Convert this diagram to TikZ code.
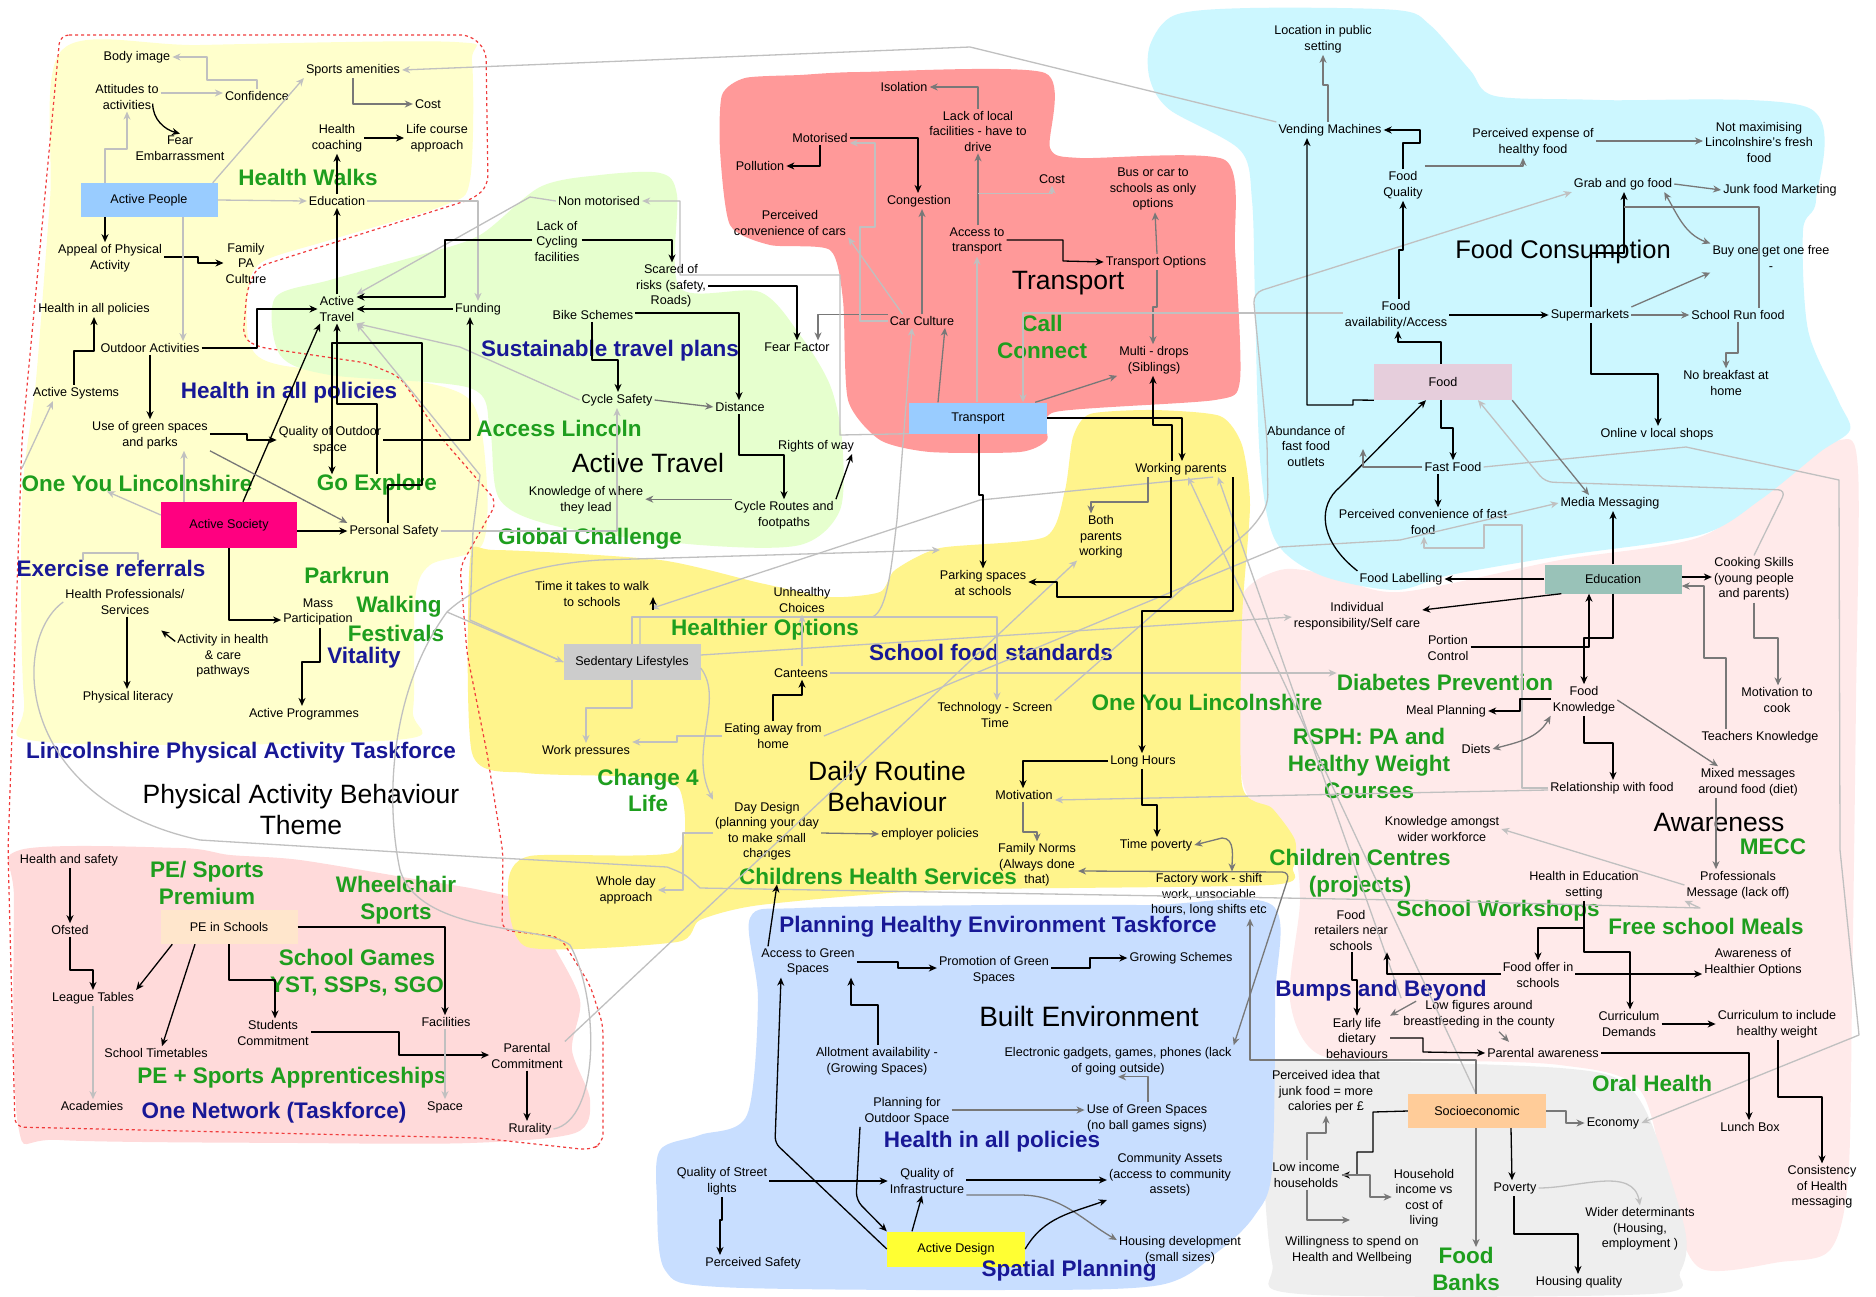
\documentclass[tikz,border=0pt]{standalone}
\usepackage{fontspec}
\setmainfont{Liberation Sans}
\usetikzlibrary{arrows.meta}
\definecolor{LGreen}{RGB}{30,158,30}
\definecolor{LBlue}{RGB}{24,24,150}
\definecolor{LGray}{RGB}{192,192,192}
\definecolor{MGray}{RGB}{120,120,120}
\definecolor{bgLY}{RGB}{255,255,204}
\definecolor{bgGr}{RGB}{230,255,206}
\definecolor{bgRed}{RGB}{255,153,153}
\definecolor{bgCy}{RGB}{204,247,255}
\definecolor{bgPk}{RGB}{255,234,234}
\definecolor{bgSal}{RGB}{255,218,218}
\definecolor{bgYe}{RGB}{255,244,140}
\definecolor{bgBl}{RGB}{200,222,255}
\definecolor{bgGy}{RGB}{238,238,238}
\definecolor{fBlue}{RGB}{153,204,255}
\definecolor{fMag}{RGB}{255,0,128}
\definecolor{fPeach}{RGB}{255,230,204}
\definecolor{fFood}{RGB}{230,206,220}
\definecolor{fTeal}{RGB}{153,194,184}
\definecolor{fOrange}{RGB}{255,204,153}
\definecolor{fSed}{RGB}{204,204,204}
\definecolor{fYel}{RGB}{255,255,51}
\definecolor{dashRed}{RGB}{240,60,60}
\tikzset{
  t/.style={font=\fontsize{12.6}{15.5}\selectfont, align=center, inner sep=2pt},
  g/.style={font=\fontsize{22.5}{27}\selectfont\bfseries, text=LGreen, align=center, inner sep=0pt},
  bl/.style={font=\fontsize{22.5}{27}\selectfont\bfseries, text=LBlue, align=center, inner sep=0pt},
  ttl/.style={font=\fontsize{26.5}{31}\selectfont, align=center, inner sep=0pt},
  bx/.style={t, minimum width=137pt, minimum height=34pt, inner sep=0pt},
  tip/.style={-{Stealth[length=8pt,width=7pt,inset=2.5pt]}},
  dtip/.style={{Stealth[length=8pt,width=7pt,inset=2.5pt]}-{Stealth[length=8pt,width=7pt,inset=2.5pt]}},
  blk/.style={draw=black, line width=1.3pt, tip},
  gry/.style={draw=MGray, line width=1.3pt, tip},
  lgr/.style={draw=LGray, line width=1.3pt, tip},
}
\begin{document}
\begin{tikzpicture}[x=1pt,y=-1pt,line join=round]
\useasboundingbox (0,0) rectangle (1876,1296);
\fill[white] (0,0) rectangle (1876,1296);

% ---------------- backgrounds ----------------
\fill[bgLY] plot[smooth cycle,tension=0.5] coordinates {(62,50) (200,45) (455,42) (472,62) (470,180) (445,205) (330,240) (262,262) (248,292) (250,345) (280,365) (400,378) (470,400) (486,470) (482,545) (430,565) (415,600) (413,710) (395,740) (45,742) (24,700) (22,500) (36,380) (50,200)};
\fill[bgGr] plot[smooth cycle,tension=0.5] coordinates {(275,298) (330,280) (420,255) (480,235) (540,187) (600,175) (660,173) (677,195) (680,288) (760,292) (800,335) (830,385) (842,440) (840,510) (800,545) (700,545) (560,527) (500,500) (490,430) (470,388) (330,375) (280,355)};
\fill[bgRed] plot[smooth cycle,tension=0.4] coordinates {(722,95) (745,78) (800,75) (860,72) (1045,73) (1050,148) (1080,158) (1225,160) (1235,250) (1240,380) (1215,400) (1055,412) (1047,440) (1020,452) (930,452) (880,440) (848,400) (843,300) (830,250) (770,245) (730,225) (720,150)};
\fill[bgPk] plot[smooth cycle,tension=0.5] coordinates {(1240,600) (1280,570) (1330,575) (1400,592) (1560,560) (1700,537) (1780,480) (1840,440) (1858,470) (1856,700) (1852,1000) (1848,1180) (1830,1250) (1780,1262) (1700,1268) (1670,1200) (1640,1090) (1560,1065) (1420,1060) (1320,1055) (1290,1000) (1300,900) (1290,840) (1245,790) (1238,700)};
\fill[bgCy] plot[smooth cycle,tension=0.5] coordinates {(1150,45) (1175,15) (1250,8) (1396,10) (1430,25) (1470,70) (1495,96) (1600,100) (1809,108) (1816,200) (1803,230) (1808,330) (1838,400) (1850,430) (1820,452) (1760,500) (1700,535) (1560,556) (1450,575) (1395,590) (1320,575) (1275,540) (1260,460) (1255,300) (1252,200) (1240,150) (1170,110) (1150,80)};
\fill[bgGy] plot[smooth cycle,tension=0.5] coordinates {(1262,1062) (1400,1062) (1560,1068) (1620,1080) (1650,1120) (1685,1230) (1680,1272) (1650,1294) (1300,1294) (1272,1262) (1262,1150) (1255,1090)};
\fill[bgSal] plot[smooth cycle,tension=0.5] coordinates {(20,850) (180,848) (230,855) (300,860) (420,880) (480,890) (530,905) (553,945) (580,1000) (572,1050) (590,1100) (575,1133) (470,1143) (300,1143) (60,1140) (18,1125) (14,900)};
\fill[bgYe] plot[smooth cycle,tension=0.4] coordinates {(470,560) (495,550) (660,560) (760,583) (830,597) (880,592) (895,570) (940,548) (1045,537) (1065,490) (1073,437) (1090,414) (1153,410) (1220,416) (1242,445) (1250,505) (1242,620) (1242,785) (1272,808) (1295,840) (1293,868) (1270,885) (940,890) (760,905) (700,920) (677,942) (527,947) (508,885) (530,856) (675,852) (680,790) (640,777) (527,773) (472,753)};
\fill[bgBl] plot[smooth cycle,tension=0.5] coordinates {(750,918) (800,908) (1000,905) (1150,905) (1272,905) (1275,1000) (1272,1170) (1255,1215) (1220,1250) (1160,1285) (1000,1290) (720,1287) (665,1270) (657,1200) (660,1150) (700,1135) (747,1115) (758,1000)};

% red dashed boundary
\draw[dashRed, line width=1.2pt, dash pattern=on 3pt off 3pt, rounded corners=9pt]
 (60,35) -- (470,35) -- (486,50) -- (488,185) -- (475,198) -- (257,267) -- (247,290) -- (243,338) -- (258,347) -- (367,363) -- (400,377) -- (443,440) -- (497,502) -- (460,567) -- (467,653) -- (487,753) -- (503,853) -- (502,930) -- (560,937) -- (590,985) -- (603,1025) -- (603,1143) -- (590,1150) -- (480,1138) -- (15,1127) -- (8,850) -- (22,440) -- cycle;

% ---------------- nodes: physical activity ----------------
\node[t] (n_bodyimg) at (137,57) {Body image};
\node[t] (n_attit) at (127,97) {Attitudes to\\activities};
\node[t] (n_conf) at (257,96) {Confidence};
\node[t] (n_sportam) at (353,70) {Sports amenities};
\node[t] (n_cost1) at (428,104) {Cost};
\node[t] (n_fear) at (180,148) {Fear\\Embarrassment};
\node[t] (n_hcoach) at (337,138) {Health\\coaching};
\node[t] (n_lifec) at (437,138) {Life course\\approach};
\node[g] (l_hwalks) at (308,177) {Health Walks};
\node[bx,fill=fBlue] (b_actpeople) at (149,200) {Active People};
\node[t] (n_educ1) at (337,201) {Education};
\node[t] (n_appeal) at (110,258) {Appeal of Physical\\Activity};
\node[t] (n_family) at (246,263) {Family\\PA\\Culture};
\node[t] (n_hiap) at (94,309) {Health in all policies};
\node[t] (n_acttrav) at (337,309) {Active\\Travel};
\node[t] (n_funding) at (478,309) {Funding};
\node[t] (n_outdoor) at (150,348) {Outdoor Activities};
\node[t] (n_actsys) at (76,393) {Active Systems};
\node[bl] (l_hiap1) at (289,393) {Health in all policies};
\node[t] (n_green) at (150,435) {Use of green spaces\\and parks};
\node[t] (n_qos) at (330,440) {Quality of Outdoor\\space};
\node[g] (l_oneyou1) at (137,483) {One You Lincolnshire};
\node[g] (l_goexp) at (377,485) {Go Explore};
\node[bx,fill=fMag,minimum height=46pt,minimum width=136pt] (b_actsoc) at (229,525) {Active Society};
\node[t] (n_psafety) at (394,531) {Personal Safety};
\node[bl] (l_exref) at (111,568) {Exercise referrals};
\node[g] (l_parkrun) at (347,575) {Parkrun};
\node[t] (n_hprof) at (125,602) {Health Professionals/\\Services};
\node[t] (n_mass) at (318,612) {Mass\\Participation};
\node[g] (l_walking) at (399,607) {Walking};
\node[g] (l_fest) at (396,633) {Festivals};
\node[bl] (l_vital) at (364,658) {Vitality};
\node[t] (n_acthealth) at (223,656) {Activity in health\\\& care\\pathways};
\node[t] (n_physlit) at (128,697) {Physical literacy};
\node[t] (n_actprog) at (304,714) {Active Programmes};
\node[bl] (l_lpat) at (241,753) {Lincolnshire Physical Activity Taskforce};
\node[ttl] (t_pab) at (301,810) {Physical Activity Behaviour\\Theme};

% PE
\node[t] (n_hsafety) at (69,860) {Health and safety};
\node[g] (l_pesp) at (207,883) {PE/ Sports\\Premium};
\node[g] (l_wheel) at (396,900) {Wheelchair\\Sports};
\node[t] (n_ofsted) at (70,930) {Ofsted};
\node[bx,fill=fPeach] (b_pe) at (229,927) {PE in Schools};
\node[g] (l_sgames) at (357,973) {School Games\\YST, SSPs, SGO};
\node[t] (n_league) at (93,998) {League Tables};
\node[t] (n_students) at (273,1033) {Students\\Commitment};
\node[t] (n_facil) at (446,1022) {Facilities};
\node[t] (n_timet) at (156,1053) {School Timetables};
\node[g] (l_peapp) at (292,1078) {PE + Sports Apprenticeships};
\node[t] (n_acad) at (92,1106) {Academies};
\node[bl] (l_onenet) at (274,1113) {One Network (Taskforce)};
\node[t] (n_space) at (445,1107) {Space};
\node[t] (n_parcom) at (527,1056) {Parental\\Commitment};
\node[t] (n_rural) at (530,1129) {Rurality};

% Active travel
\node[t] (n_nonmot) at (599,201) {Non motorised};
\node[t] (n_lackcyc) at (557,241) {Lack of\\Cycling\\facilities};
\node[t] (n_scared) at (671,286) {Scared of\\risks (safety,\\Roads)};
\node[t] (n_bike) at (593,315) {Bike Schemes};
\node[bl] (l_stp) at (610,351) {Sustainable travel plans};
\node[t] (n_fearf) at (797,347) {Fear Factor};
\node[t] (n_cycsafe) at (617,400) {Cycle Safety};
\node[t] (n_distance) at (740,407) {Distance};
\node[g] (l_acclinc) at (559,428) {Access Lincoln};
\node[ttl] (t_at) at (648,463) {Active Travel};
\node[t] (n_rights) at (816,446) {Rights of way};
\node[t] (n_knowwhere) at (586,500) {Knowledge of where\\they lead};
\node[t] (n_cycroutes) at (784,515) {Cycle Routes and\\footpaths};
\node[g] (l_global) at (590,539) {Global Challenge};

% Transport
\node[t] (n_isol) at (904,87) {Isolation};
\node[t] (n_motor) at (820,138) {Motorised};
\node[t] (n_pollu) at (760,166) {Pollution};
\node[t] (n_lacklocal) at (978,131) {Lack of local\\facilities - have to\\drive};
\node[t] (n_conges) at (919,201) {Congestion};
\node[t] (n_percconv) at (790,223) {Perceived\\convenience of cars};
\node[t] (n_cost2) at (1052,179) {Cost};
\node[t] (n_bus) at (1153,189) {Bus or car to\\schools as only\\options};
\node[t] (n_acctrans) at (977,241) {Access to\\transport};
\node[t] (n_transopt) at (1156,262) {Transport Options};
\node[ttl] (t_transport) at (1068,283) {Transport};
\node[t] (n_carcult) at (922,321) {Car Culture};
\node[g] (l_call) at (1042,337) {Call\\Connect};
\node[t] (n_multi) at (1154,360) {Multi - drops\\(Siblings)};
\node[bx,fill=fBlue,minimum width=138pt,minimum height=31pt] (b_transport) at (978,418) {Transport};

% Food
\node[t] (n_location) at (1323,39) {Location in public\\setting};
\node[t] (n_vending) at (1330,130) {Vending Machines};
\node[t] (n_percexp) at (1533,142) {Perceived expense of\\healthy food};
\node[t] (n_notmax) at (1759,142) {Not maximising\\Lincolnshire's fresh\\food};
\node[t] (n_foodq) at (1403,185) {Food\\Quality};
\node[t] (n_grab) at (1623,184) {Grab and go food};
\node[t] (n_junk) at (1780,190) {Junk food Marketing};
\node[ttl,font=\fontsize{25.5}{30}\selectfont] (t_foodcons) at (1563,252) {Food Consumption};
\node[t] (n_bogof) at (1771,258) {Buy one get one free\\-};
\node[t] (n_foodavail) at (1396,315) {Food\\availability/Access};
\node[t] (n_super) at (1590,315) {Supermarkets};
\node[t] (n_schoolrun) at (1738,315) {School Run food};
\node[bx,fill=fFood,minimum width=138pt,minimum height=36pt] (b_food) at (1443,382) {Food};
\node[t] (n_nobreak) at (1726,383) {No breakfast at\\home};
\node[t] (n_online) at (1657,434) {Online v local shops};
\node[t] (n_abund) at (1306,446) {Abundance of\\fast food\\outlets};
\node[t] (n_fastfood) at (1453,467) {Fast Food};
\node[t] (n_media) at (1610,503) {Media Messaging};
\node[t] (n_percfast) at (1423,522) {Perceived convenience of fast\\food};

% Pink region
\node[t] (n_foodlab) at (1401,579) {Food Labelling};
\node[bx,fill=fTeal,minimum height=29pt] (b_educ) at (1613,579) {Education};
\node[t] (n_cooking) at (1754,579) {Cooking Skills\\(young people\\and parents)};
\node[t] (n_indiv) at (1357,616) {Individual\\responsibility/Self care};
\node[t] (n_portion) at (1448,648) {Portion\\Control};
\node[g] (l_diab) at (1445,682) {Diabetes Prevention};
\node[t] (n_foodknow) at (1584,700) {Food\\Knowledge};
\node[t] (n_meal) at (1446,711) {Meal Planning};
\node[t] (n_motcook) at (1777,700) {Motivation to\\cook};
\node[g] (l_oneyou2) at (1207,702) {One You Lincolnshire};
\node[g] (l_rsph) at (1369,763) {RSPH: PA and\\Healthy Weight\\Courses};
\node[t] (n_diets) at (1476,749) {Diets};
\node[t] (n_teachers) at (1760,737) {Teachers Knowledge};
\node[t] (n_relation) at (1612,788) {Relationship with food};
\node[t] (n_mixed) at (1748,782) {Mixed messages\\around food (diet)};
\node[ttl] (t_aware) at (1719,822) {Awareness};
\node[g] (l_mecc) at (1773,847) {MECC};
\node[t] (n_knowwide) at (1442,829) {Knowledge amongst\\wider workforce};
\node[g] (l_children) at (1360,873) {Children Centres\\(projects)};
\node[t] (n_hined) at (1584,885) {Health in Education\\setting};
\node[t] (n_profmsg) at (1738,885) {Professionals\\Message (lack off)};
\node[g] (l_workshops) at (1498,911) {School Workshops};
\node[g] (l_fsm) at (1706,926) {Free school Meals};
\node[t] (n_retailers) at (1351,930) {Food\\retailers near\\schools};
\node[t] (n_awhealthy) at (1753,962) {Awareness of\\Healthier Options};
\node[t] (n_foodoffer) at (1538,975) {Food offer in\\schools};
\node[bl] (l_bumps) at (1381,991) {Bumps and Beyond};
\node[t] (n_lowfig) at (1479,1014) {Low figures around\\breastfeeding in the county};
\node[t] (n_earlylife) at (1357,1038) {Early life\\dietary\\behaviours};
\node[t] (n_currdem) at (1629,1024) {Curriculum\\Demands};
\node[t] (n_currinc) at (1777,1024) {Curriculum to include\\healthy weight};
\node[t] (n_parentaw) at (1543,1053) {Parental awareness};
\node[t] (n_percjunk) at (1326,1092) {Perceived idea that\\junk food = more\\calories per £};
\node[g] (l_oral) at (1652,1083) {Oral Health};
\node[bx,fill=fOrange,minimum width=138pt] (b_socio) at (1477,1111) {Socioeconomic};
\node[t] (n_economy) at (1613,1123) {Economy};
\node[t] (n_lunch) at (1750,1127) {Lunch Box};
\node[t] (n_lowinc) at (1306,1175) {Low income\\households};
\node[t] (n_household) at (1424,1198) {Household\\income vs\\cost of\\living};
\node[t] (n_poverty) at (1515,1188) {Poverty};
\node[t] (n_consist) at (1822,1187) {Consistency\\of Health\\messaging};
\node[t] (n_wider) at (1640,1229) {Wider determinants\\(Housing,\\employment )};
\node[t] (n_willing) at (1352,1250) {Willingness to spend on\\Health and Wellbeing};
\node[g] (l_foodbanks) at (1466,1269) {Food\\Banks};
\node[t] (n_housingq) at (1579,1282) {Housing quality};

% Daily routine
\node[t] (n_working) at (1181,469) {Working parents};
\node[t] (n_both) at (1101,537) {Both\\parents\\working};
\node[t] (n_parking) at (983,583) {Parking spaces\\at schools};
\node[t] (n_timewalk) at (592,594) {Time it takes to walk\\to schools};
\node[t] (n_unhealthy) at (802,600) {Unhealthy\\Choices};
\node[g] (l_healthier) at (765,630) {Healthier Options};
\node[bl] (l_sfs) at (991,652) {School food standards};
\node[bx,fill=fSed,minimum height=36pt] (b_sed) at (632,662) {Sedentary Lifestyles};
\node[t] (n_canteens) at (801,673) {Canteens};
\node[t] (n_tech) at (995,715) {Technology - Screen\\Time};
\node[t] (n_eating) at (773,736) {Eating away from\\home};
\node[t] (n_workp) at (586,751) {Work pressures};
\node[g,font=\fontsize{22.5}{26}\selectfont\bfseries] (l_c4l) at (648,790) {Change 4\\Life};
\node[t] (n_longh) at (1143,761) {Long Hours};
\node[ttl] (t_daily) at (887,787) {Daily Routine\\Behaviour};
\node[t] (n_motiv) at (1024,795) {Motivation};
\node[t] (n_daydes) at (767,831) {Day Design\\(planning your day\\to make small\\changes};
\node[t] (n_employer) at (930,834) {employer policies};
\node[t] (n_timepov) at (1156,845) {Time poverty};
\node[t] (n_famnorm) at (1037,865) {Family Norms\\(Always done\\that)};
\node[g] (l_chs) at (878,876) {Childrens Health Services};
\node[t] (n_factory) at (1209,895) {Factory work - shift\\work, unsociable\\hours, long shifts etc};
\node[t] (n_wholeday) at (626,890) {Whole day\\approach};

% Built environment
\node[bl] (l_phet) at (998,927) {Planning Healthy Environment Taskforce};
\node[t] (n_accgreen) at (808,962) {Access to Green\\Spaces};
\node[t] (n_promo) at (994,970) {Promotion of Green\\Spaces};
\node[t] (n_growing) at (1181,958) {Growing Schemes};
\node[ttl,font=\fontsize{28}{33}\selectfont] (t_built) at (1089,1016) {Built Environment};
\node[t] (n_allot) at (877,1061) {Allotment availability -\\(Growing Spaces)};
\node[t] (n_elec) at (1118,1061) {Electronic gadgets, games, phones (lack\\of going outside)};
\node[t] (n_planout) at (907,1111) {Planning for\\Outdoor Space};
\node[t] (n_usegreen) at (1147,1118) {Use of Green Spaces\\(no ball games signs)};
\node[bl] (l_hiap3) at (992,1142) {Health in all policies};
\node[t] (n_streetl) at (722,1181) {Quality of Street\\lights};
\node[t] (n_qinfra) at (927,1181) {Quality of\\Infrastructure};
\node[t] (n_commass) at (1170,1175) {Community Assets\\(access to community\\assets)};
\node[bx,fill=fYel,minimum width=138pt,minimum height=35pt] (b_actdes) at (956,1249) {Active Design};
\node[t] (n_percsafe) at (753,1263) {Perceived Safety};
\node[t] (n_housedev) at (1180,1250) {Housing development\\(small sizes)};
\node[bl] (l_spatial) at (1069,1271) {Spatial Planning};

\coordinate (c_as) at (22,468);
\coordinate (c_mid) at (447,612);

% ---------------- long light-grey connectors ----------------
\draw[lgr] (n_vending.north west) -- (970,47) -- (n_sportam.east);
\draw[lgr] (n_hprof.west) .. controls (10,640) and (15,800) .. (200,840) -- (480,857) -- (667,867) .. controls (685,874) .. (700,888) -- (1400,900) -- (1700,908) -- (n_profmsg.south west);
\draw[lgr] (n_rural.east) .. controls (600,1120) and (600,1000) .. (570,945) .. controls (545,925) and (420,935) .. (400,870) .. controls (385,800) and (390,690) .. (c_mid) -- (b_sed.west);
\draw[lgr] (c_mid) .. controls (470,590) and (520,565) .. (600,560) -- (940,550);
\draw[lgr] (b_socio.north -| 1476,0) -- (n_working.south -| 1188,0);
\draw[lgr] (n_lowfig.north west) -- (n_working.south -| 1218,0);
\draw[lgr] (n_parcom.north east) -- (n_both.south west);
\draw[lgr] (b_sed.east |- 0,655) -- (n_indiv.west |- 0,617);
\draw[lgr] (b_sed.north) |- (997,617) -- (n_tech.north -| 997,0);
\draw[lgr] (b_sed.north -| 640,0) |- (872,617) .. controls (888,612) and (892,560) .. (897,520) -- (n_carcult.south -| 912,0);
\draw[lgr] (n_eating.east) -- (1280,547) -- (1400,540) -- (n_media.west);
\draw[lgr, rounded corners=10pt] (n_tech.north east) -- (1253,527) -- (1268,505) -- (1267,440) -- (1253,293) -- (n_grab.south west);
\draw[lgr] (n_relation.west |- 0,790) -- (n_motiv.east |- 0,800);
\draw[lgr] (n_canteens.east |- 0,673) -- (l_diab.west |- 0,673);
\draw[lgr] (n_fastfood.east) -- (1686,447) -- (1839,480) -- (1840,850) -- (1859,1035) -- (n_economy.east);
\draw[lgr, rounded corners=8pt] (n_cooking.north) -- (1786,490) -- (1545,482) -- (b_food.south -| 1478,0);
\draw[lgr] (n_relation.west) -| (1522,525) -| (1484,548) -| (n_percfast.south -| 1424,0);
\draw[lgr] (n_working.south -| 1213,0) -- (980,500) -- (920,520) -- (n_timewalk.south east);
\draw[lgr] (b_sed.west) -- (470,620) -- (473,530) -- (480,475) -- (n_acttrav.south east);
\draw[lgr] (n_cycsafe.west) -- (460,347) -- (n_acttrav.south east);
\draw[lgr] (n_psafety.east) -- (617,531) -- (n_cycsafe.south -| 617,0);
\draw[lgr] (c_as) -- (n_actsys.south -| 53,0);
\draw[lgr,-] (l_exref.north -| 83,0) -- (83,553) -- (138,553) -- (l_exref.north -| 138,0);

% ---------------- physical activity connectors ----------------
\draw[lgr] (n_conf.north) |- (207,80) |- (n_bodyimg.east);
\draw[lgr] (n_attit.east |- 0,93) -- (n_conf.west |- 0,93);
\draw[blk] (n_attit.south east) ++(-8,-8) to[out=-90,in=165] (n_fear.north);
\draw[lgr] (b_actpeople.north -| 105,0) |- (127,149) -- (n_attit.south -| 127,0);
\draw[lgr] (b_actpeople.north east) ++(-5,0) -- (n_sportam.south west);
\draw[gry] (n_sportam.south) |- (n_cost1.west);
\draw[blk] (n_hcoach.east) -- (n_lifec.west);
\draw[blk] (n_educ1.north) -- (n_hcoach.south);
\draw[lgr] (b_actpeople.east) -- (n_educ1.west);
\draw[lgr] (n_educ1.east) -| (n_funding.north);
\draw[blk] (b_actpeople.south -| 105,0) -- (n_appeal.north -| 105,0);
\draw[blk] (n_appeal.east |- 0,257) -- (198,257) |- (n_family.west);
\draw[lgr] (b_actpeople.south -| 183,0) -- (n_outdoor.north -| 183,0);
\draw[blk] (n_acttrav.north) -- (n_educ1.south);
\draw[lgr] (n_nonmot.west) -- (530,197) -- (n_acttrav.north east);
\draw[blk] (n_lackcyc.west |- 0,240) -- (445,240) |- (n_acttrav.east |- 0,297);
\draw[blk] (n_funding.west) -- (n_acttrav.east |- n_funding.west);
\draw[blk] (n_outdoor.east) -- (257,348) |- (n_acttrav.west);
\draw[blk] (n_actsys.north -| 74,0) |- (94,351) -- (n_hiap.south -| 94,0);
\draw[blk] (n_outdoor.south) -- (n_green.north);
\draw[blk] (n_green.east |- 0,434) -- (247,434) |- (n_qos.west);
\draw[blk] (b_actsoc.north -| 243,0) -- (n_acttrav.south -| 320,0);
\draw[blk] (n_qos.east) -| (n_funding.south -| 470,0);
\draw[blk] (l_goexp.north -| 377,0) |- (337,404) -- (n_acttrav.south);
\draw[blk] (n_psafety.north -| 388,0) |- (422,485) |- (332,343) -- (l_goexp.north -| 332,0);
\draw[lgr] (b_actsoc.west |- 0,515) -- (l_oneyou1.south -| 107,0);
\draw[lgr] (b_actsoc.north -| 184,0) -- (n_green.south -| 184,0);
\draw[gry] (n_green.south east) -- (n_psafety.north west);
\draw[blk] (b_actsoc.east |- n_psafety.west) -- (n_psafety.west);
\draw[blk] (b_actsoc.south) |- (n_mass.west |- 0,620);
\draw[blk] (n_mass.south -| 320,0) |- (302,662) -- (n_actprog.north -| 302,0);
\draw[blk] (n_acthealth.north west) ++(0,9) -- ++(-14,-11);
\draw[blk] (n_hprof.south -| 127,0) -- (n_physlit.north -| 127,0);

% PE
\draw[blk] (n_hsafety.south -| 70,0) -- (n_ofsted.north -| 70,0);
\draw[blk] (n_ofsted.south) |- (93,970) -- (n_league.north -| 93,0);
\draw[blk] (b_pe.south west) ++(12,0) -- (n_league.north east);
\draw[blk] (b_pe.south -| 195,0) -- (n_timet.north -| 162,0);
\draw[blk] (b_pe.south) |- (275,980) -- (n_students.north -| 275,0);
\draw[blk] (b_pe.east) -| (n_facil.north -| 445,0);
\draw[blk] (n_students.east |- 0,1032) -- (399,1032) |- (n_parcom.west |- 0,1055);
\draw[lgr] (n_league.south -| 93,0) -- (n_acad.north -| 93,0);
\draw[lgr] (n_facil.south -| 445,0) -- (n_space.north -| 445,0);
\draw[blk] (n_parcom.south) -- (n_rural.north -| 527,0);

% Active travel
\draw[blk] (n_lackcyc.east |- 0,240) -| (n_scared.north -| 672,0);
\draw[blk] (n_scared.east |- 0,286) -| (n_fearf.north -| 797,0);
\draw[gry] (n_carcult.north west) -| (n_fearf.north -| 818,0);
\draw[blk] (n_bike.east |- 0,313) -| (n_distance.north -| 739,0);
\draw[blk] (n_bike.south -| 592,0) |- (618,360) -- (n_cycsafe.north -| 618,0);
\draw[gry] (n_cycsafe.east) -- (n_distance.west);
\draw[blk] (n_distance.south -| 739,0) |- (784,455) -- (n_cycroutes.north -| 784,0);
\draw[blk] (n_cycroutes.north east) -- (n_rights.south -| 852,0);
\draw[gry] (n_cycroutes.north west) -- (n_knowwhere.east |- n_cycroutes.north west);
\draw[blk] (n_timewalk.east) ++(2,16) -- ++(0,-13);

% Transport
\draw[blk] (n_motor.east) -| (n_conges.north -| 918,0);
\draw[blk] (n_motor.south) |- (n_pollu.east);
\draw[lgr] (n_carcult.west) -| (860,227) -| (875,143) -- (n_motor.east |- 0,143);
\draw[lgr] (n_carcult.north west) ++(15,0) -- (n_percconv.south east);
\draw[gry] (n_carcult.north) -- (n_conges.south -| n_carcult.north);
\draw[lgr] (b_transport.north -| 977,0) -- (n_acctrans.south -| 977,0);
\draw[gry] (n_acctrans.north -| 978,0) -- (n_lacklocal.south -| 978,0);
\draw[lgr] (n_lacklocal.south) ++(0,40) -| (n_cost2.south);
\draw[gry] (n_lacklocal.north -| 978,0) |- (n_isol.east);
\draw[blk] (n_acctrans.east |- 0,240) -| (1063,261) -- (n_transopt.west);
\draw[gry] (n_transopt.north -| 1157,0) -- (n_bus.south -| 1155,0);
\draw[gry] (n_transopt.south -| 1157,0) |- (1153,307) -- (n_multi.north -| 1153,0);
\draw[blk] (b_transport.east) -| (n_working.north -| 1182,0);
\draw[blk] (n_working.north -| 1172,0) |- (1153,425) -- (n_multi.south -| 1153,0);
\draw[gry] (b_transport.north east) ++(-12,0) -- (n_multi.south west);
\draw[lgr] (n_foodavail.west |- 0,313) -| (b_transport.north -| 1023,0);
\draw[gry] (b_transport.north -| 938,0) -- (n_carcult.south -| 945,0);
\draw[lgr] (b_transport.south west) -- (840,435) |- (680,275) |- (n_nonmot.east);

% Food
\draw[gry] (n_vending.north -| 1328,0) |- (1323,85) -- (n_location.south -| 1323,0);
\draw[blk] (b_food.south west) -- (1353,400) -- (1353,405) -- (1307,405) -- (n_vending.south -| 1307,0);
\draw[blk] (n_foodavail.north -| 1399,0) |- (1403,250) -- (n_foodq.south -| 1403,0);
\draw[blk] (n_foodq.north -| 1403,0) |- (1420,143) |- (n_vending.east);
\draw[gry] (n_foodq.east |- 0,166) -| (n_percexp.south -| 1523,0);
\draw[gry] (n_percexp.east |- 0,141) -- (n_notmax.west |- 0,141);
\draw[blk] (n_foodavail.east) -- (n_super.west);
\draw[gry] (n_super.east) -- (n_schoolrun.west);
\draw[gry] (n_super.north east) -- (n_bogof.south west);
\draw[blk] (n_super.north -| 1591,0) |- (1624,253) -- (n_grab.south -| 1624,0);
\draw[gry,-] (n_schoolrun.north -| 1759,0) |- (1624,207);
\draw[gry] (n_grab.east) -- (n_junk.west);
\draw[gry,dtip] (n_grab.south east) ++(-10,0) to[out=-60,in=160] (n_bogof.north west);
\draw[gry] (n_schoolrun.south -| 1738,0) |- (1726,353) -- (n_nobreak.north -| 1726,0);
\draw[blk] (n_super.south -| 1591,0) |- (1658,374) -- (n_online.north -| 1658,0);
\draw[blk] (b_food.north -| 1441,0) |- (1398,342) -- (n_foodavail.south -| 1398,0);
\draw[blk] (b_food.south -| 1441,0) |- (1453,428) -- (n_fastfood.north -| 1453,0);
\draw[gry] (b_food.south east) -- (n_media.north -| 1589,0);
\draw[blk] (n_foodlab.north west) .. controls (1318,540) and (1318,505) .. (1340,487) -- (b_food.south -| 1426,0);
\draw[gry] (n_fastfood.west) -| (1363,449);
\draw[blk] (n_fastfood.south -| 1438,0) -- (n_percfast.north -| 1438,0);

% Pink region
\draw[blk] (b_educ.north) -- (n_media.south -| b_educ.north);
\draw[blk] (b_educ.west) -- (n_foodlab.east |- b_educ.west);
\draw[blk] (b_educ.south west) ++(17,0) -- (n_indiv.east |- 0,610);
\draw[blk] (b_educ.east |- 0,577) -- (n_cooking.west |- 0,577);
\draw[gry] (n_teachers.north -| 1726,0) |- (1704,658) |- (b_educ.east |- 0,586);
\draw[gry] (n_cooking.south -| 1754,0) |- (1778,638) -- (n_motcook.north -| 1778,0);
\draw[blk] (n_portion.east |- 0,647) -| (b_educ.south -| 1589,0);
\draw[blk] (b_educ.south) |- (1584,638) -- (n_foodknow.north -| 1584,0);
\draw[blk] (n_foodknow.west |- 0,699) -| (1520,711) -- (n_meal.east |- 0,711);
\draw[gry,dtip] (n_foodknow.south west) to[out=-120,in=15] (n_diets.east);
\draw[blk] (n_foodknow.south) |- (1613,743) -- (n_relation.north -| 1613,0);
\draw[gry] (n_foodknow.east) -- (n_mixed.north -| 1718,0);
\draw[gry] (n_mixed.south -| 1716,0) -- (n_profmsg.north -| 1716,0);
\draw[lgr] (n_profmsg.west) -- (n_knowwide.east);
\draw[blk] (n_retailers.south -| 1352,0) |- (1357,980) -- (n_earlylife.north -| 1357,0);
\draw[blk] (n_foodoffer.west |- 0,974) -| (n_retailers.south -| 1387,0);
\draw[gry] (n_lowfig.north west) ++(15,3) -- (n_earlylife.north east);
\draw[gry] (n_lowfig.south) ++(20,2) -- ++(10,10);
\draw[blk] (n_earlylife.east |- 0,1038) -| (1423,1052) -- (n_parentaw.west);
\draw[blk] (n_hined.south) |- (1538,928) -- (n_foodoffer.north -| 1538,0);
\draw[blk] (n_hined.south) |- (1630,952) -- (n_currdem.north -| 1630,0);
\draw[blk] (n_foodoffer.east |- 0,974) -- (n_awhealthy.west |- 0,974);
\draw[blk] (n_currdem.east) -- (n_currinc.west);
\draw[blk] (n_currinc.south -| 1778,0) |- (1822,1097) -- (n_consist.north -| 1822,0);
\draw[blk] (n_parentaw.east) -| (n_lunch.north -| 1749,0);
\draw[gry] (b_socio.east) -- (1566,1111) |- (n_economy.west);
\draw[blk] (b_socio.south -| 1511,0) -- (n_poverty.north -| 1512,0);
\draw[gry] (b_socio.south -| 1476,0) -- (l_foodbanks.north -| 1476,0);
\draw[lgr] (n_poverty.east) to[out=0,in=100] (n_wider.north);
\draw[blk] (n_poverty.south -| 1514,0) |- (1578,1234) -- (n_housingq.north -| 1578,0);
\draw[blk] (b_socio.west) -- (1373,1112) |- (1357,1152) |- (n_lowinc.east);
\draw[gry] (n_lowinc.north -| 1307,0) |- (1326,1133) -- (n_percjunk.south -| 1326,0);
\draw[gry] (n_lowinc.east) -- (1370,1175) |- (n_household.west |- 0,1197);
\draw[gry] (n_lowinc.south -| 1307,0) |- (1350,1220);
\draw[gry] (b_socio.north -| 1476,0) |- (1250,1060) -- (n_factory.south -| 1250,0);
\draw[gry,rounded corners=8pt,dtip] (n_elec.north east) -- (1290,872) -- (n_famnorm.east |- 0,871);
\draw[gry,dtip] (n_timepov.east) -- (1222,838) to[out=0,in=90] (n_factory.north -| 1232,0);

% Daily routine
\draw[gry] (n_working.south -| 1148,0) |- (1091,502) -- (n_both.north -| 1091,0);
\draw[blk] (n_working.south -| 1171,0) |- (1057,597) |- (n_parking.east |- 0,582);
\draw[blk] (n_working.south -| 1233,0) |- (1142,611) -- (n_longh.north -| 1142,0);
\draw[blk] (b_transport.south -| 979,0) |- (983,495) -- (n_parking.north -| 983,0);
\draw[blk] (n_longh.west) -| (n_motiv.north -| 1023,0);
\draw[blk] (n_longh.south -| 1142,0) |- (1157,805) -- (n_timepov.north -| 1157,0);
\draw[gry] (n_motiv.south -| 1023,0) |- (1037,832) -- (n_famnorm.north -| 1037,0);
\draw[lgr] (n_canteens.north -| 802,0) -- (n_unhealthy.south -| 802,0);
\draw[blk] (n_eating.north -| 773,0) |- (802,695) -- (n_canteens.south -| 802,0);
\draw[lgr] (n_eating.west) -| (677,742) -- (n_workp.east |- 0,742);
\draw[gry] (n_daydes.east |- 0,833) -- (n_employer.west);
\draw[lgr] (n_daydes.west |- 0,833) -- (683,833) |- (n_wholeday.east);
\draw[lgr] (b_sed.south) |- (586,708) -- (n_workp.north -| 586,0);
\draw[lgr] (b_sed.east |- 0,668) .. controls (725,700) and (688,750) .. (n_daydes.north west);

% Built environment
\draw[blk] (n_accgreen.east |- 0,962) -- (898,962) |- (n_promo.west |- 0,968);
\draw[blk] (n_promo.east |- 0,968) -- (1090,968) |- (n_growing.west);
\draw[blk] (n_allot.north -| 878,0) |- (851,1005) -- (n_accgreen.south -| 851,0);
\draw[blk,rounded corners=6pt] (b_actdes.west) -- (775,1143) -- (n_accgreen.south -| 781,0);
\draw[blk] (n_accgreen.north -| 768,0) -- (l_chs.south -| 777,0);
\draw[blk,rounded corners=8pt] (n_planout.south -| 860,0) -- (856,1200) -- (b_actdes.north west);
\draw[blk] (n_streetl.east |- 0,1181) -- (n_qinfra.west);
\draw[blk] (n_streetl.south -| 722,0) |- (720,1220) -- (n_percsafe.north -| 720,0);
\draw[blk] (b_actdes.north -| 912,0) -- (n_qinfra.south -| 922,0);
\draw[blk] (n_qinfra.east |- 0,1180) -- (n_commass.west |- 0,1180);
\draw[gry] (n_qinfra.east |- 0,1195) -- (1020,1195) to[out=0,in=150] (n_housedev.west |- 0,1240);
\draw[blk] (b_actdes.east) to[out=60,in=200] (n_commass.west |- 0,1200);
\draw[gry] (n_planout.east |- 0,1110) -- (n_usegreen.west |- 0,1110);
\draw[gry] (n_usegreen.north -| 1148,0) |- (n_elec.south -| 1118,0);
\end{tikzpicture}
\end{document}
